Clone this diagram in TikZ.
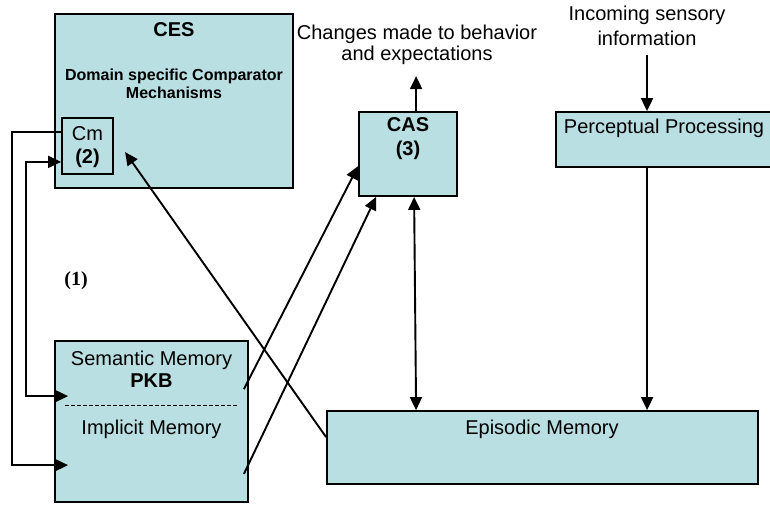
\documentclass[tikz,border=0pt]{standalone}
\usepackage{fontspec}
\setmainfont{Liberation Sans}
\newfontfamily\seriffont{Liberation Serif}
\usetikzlibrary{arrows.meta}
\definecolor{boxfill}{RGB}{185,223,226}
\begin{document}
\begin{tikzpicture}[x=1pt,y=-1pt,
  box/.style={draw=black, line width=1.8pt, fill=boxfill, inner sep=0pt},
  txt/.style={inner sep=0pt, align=center, font=\fontsize{20pt}{22pt}\selectfont},
  btxt/.style={txt, font=\fontsize{20pt}{22pt}\selectfont\bfseries},
  conn/.style={line width=1.9pt, draw=black},
  tip/.style={-{Triangle[length=13pt,width=12pt]}},
  dtip/.style={{Triangle[length=13pt,width=12pt]}-{Triangle[length=13pt,width=12pt]}}]
\clip (0,0) rectangle (770,504);
\fill[white] (0,0) rectangle (770,504);
% boxes
\node[box, minimum width=238pt, minimum height=174pt] (ces) at (174,101) {};
\node[box, minimum width=51pt, minimum height=56pt] (cm) at (87.5,146) {};
\node[box, minimum width=98pt, minimum height=84pt] (cas) at (408,154) {};
\node[box, minimum width=220pt, minimum height=55pt] (perc) at (666,139.5) {};
\node[box, minimum width=193pt, minimum height=161pt] (sem) at (151.5,421.5) {};
\node[box, minimum width=431pt, minimum height=73pt] (epi) at (542.5,447.5) {};
% texts
\node[btxt] (cestxt) at (174,30) {CES};
\node[txt, font=\fontsize{16pt}{18pt}\selectfont\bfseries] (domtxt) at (174,84) {Domain specific Comparator\\Mechanisms};
\node[txt, font=\fontsize{20pt}{23pt}\selectfont] (cmtxt) at (87.5,147) {Cm\\\textbf{(2)}};
\node[btxt, font=\fontsize{20pt}{24pt}\selectfont\bfseries] (castxt) at (408,139) {CAS\\(3)};
\node[txt, font=\fontsize{20pt}{21pt}\selectfont] (changes) at (417,45) {Changes made to behavior\\and expectations};
\node[txt, font=\fontsize{20pt}{25pt}\selectfont] (incoming) at (647,26) {Incoming sensory\\information};
\node[txt] (perctxt) at (664,128) {Perceptual Processing};
\node[txt] (semtxt) at (151.5,360) {Semantic Memory};
\node[btxt] (pkbtxt) at (151.5,381) {PKB};
\node[txt] (imptxt) at (151.5,429) {Implicit Memory};
\node[txt] (epitxt) at (542,429) {Episodic Memory};
\node[inner sep=0pt, font=\fontsize{20pt}{22pt}\seriffont\bfseries] (one) at (76,281) {(1)};
\draw[dash pattern=on 4pt off 2pt, line width=1.1pt] ([xshift=11pt,yshift=-65pt]sem.north west) -- ([xshift=-10pt,yshift=-65pt]sem.north east);
% coordinates inside boxes
\coordinate (semA) at ([xshift=14pt,yshift=-56pt]sem.north west);
\coordinate (semB) at ([xshift=14pt,yshift=-125pt]sem.north west);
\coordinate (cesin) at ([xshift=71pt,yshift=-139pt]ces.north west);
% connectors
\draw[conn, tip] ([yshift=-15pt]cm.north west) -- ++(-49,0) |- (semB);
\draw[conn, dtip] ([yshift=13pt]cm.south west) -- ++(-35,0) |- (semA);
\draw[conn, tip] ([shift={(-5pt,-49pt)}]sem.north east) -- ([yshift=-55pt]cas.north west);
\draw[conn, tip] ([shift={(-5pt,29pt)}]sem.south east) -- ([xshift=18pt]cas.south west);
\draw[conn, tip] ([yshift=-27pt]epi.north west) -- (cesin);
\draw[conn, dtip] ([xshift=56pt]cas.south west) -- ([xshift=90pt]epi.north west);
\draw[conn, tip] ([xshift=58pt]cas.north west) -- ++(0,-35);
\draw[conn, tip] ([yshift=-9pt]incoming.south) -- (incoming.south |- perc.north);
\draw[conn, tip] ([xshift=92pt]perc.south west) -- ([xshift=321pt]epi.north west);
\end{tikzpicture}
\end{document}
